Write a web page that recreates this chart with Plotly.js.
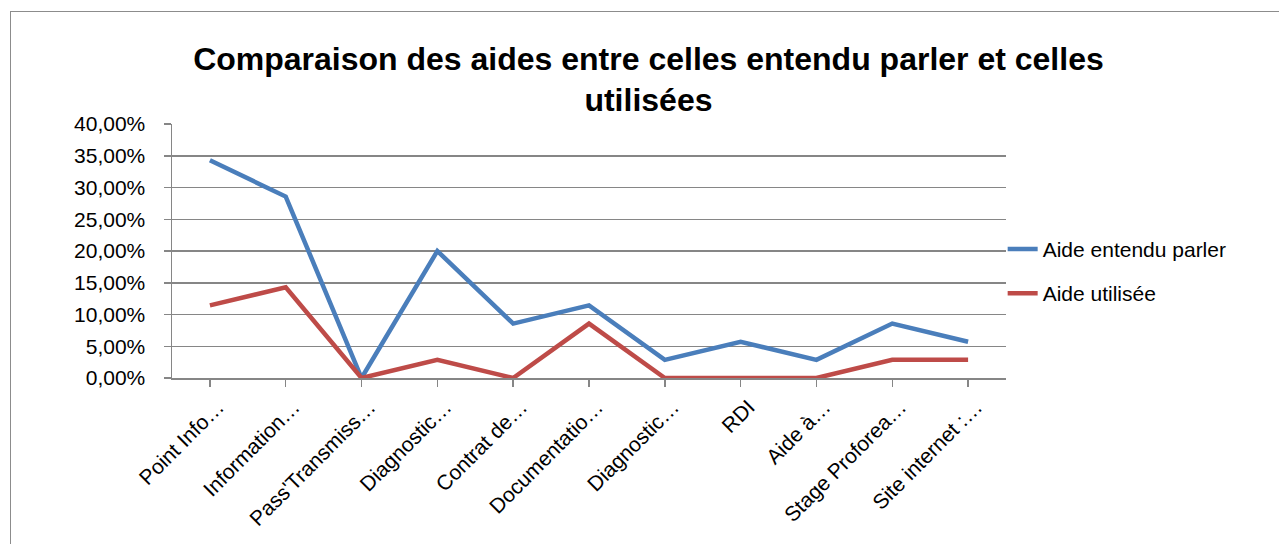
<!DOCTYPE html>
<html><head><meta charset="utf-8">
<script src="https://cdn.plot.ly/plotly-3.0.1.min.js"></script>
<style>
html,body{margin:0;padding:0;background:#fff;}
#chart{width:1279px;height:544px;}
#frame{position:absolute;left:10px;top:11px;width:1400px;height:700px;border:1.5px solid #8c8c8c;pointer-events:none;}
</style></head>
<body>
<div id="chart"></div>
<div id="frame"></div>
<script>
const categories = ["Point Info…","Information…","Pass'Transmiss…","Diagnostic…","Contrat de…","Documentatio…","Diagnostic…","RDI","Aide à…","Stage Proforea…","Site internet :…"];
const aideEntendu = [0.3429,0.2857,0.0,0.20,0.0857,0.1143,0.0286,0.0571,0.0286,0.0857,0.0571];
const aideUtilisee = [0.1143,0.1429,0.0,0.0286,0.0,0.0857,0.0,0.0,0.0,0.0286,0.0286];
const seriesNames = ["Aide entendu parler","Aide utilisée"];
const titleText = "Comparaison des aides entre celles entendu parler et celles<br>utilisées";

const idx = categories.map((_, i) => i);
const traces = [
  {x: idx, y: aideEntendu, name: seriesNames[0], legendgroup: 'a', type: 'scatter', mode: 'lines',
   line: {color: '#4A7EBB', width: 4.5}},
  {x: idx, y: aideUtilisee, name: seriesNames[1], legendgroup: 'b', type: 'scatter', mode: 'lines',
   line: {color: '#BE4B48', width: 4.5}}
];
const font = "Liberation Sans, Arial, sans-serif";
const layout = {
  width: 1279, height: 544,
  margin: {l: 172, r: 273, t: 124, b: 166},
  paper_bgcolor: '#fff', plot_bgcolor: '#fff',
  separators: ', ',
  font: {family: font, size: 21, color: '#000'},
  title: {text: titleText, x: 0.507, xanchor: 'center', y: 0.872, yanchor: 'middle',
          xref: 'container', yref: 'container',
          font: {family: font, size: 32, color: '#000', weight: 'bold'}},
  xaxis: {
    range: [-0.5, 10.5], tickmode: 'array', tickvals: idx, ticktext: categories,
    tickangle: -45, showgrid: false, zeroline: false, showline: true,
    linecolor: '#868686', linewidth: 1.5, ticks: 'outside', tickson: 'boundaries',
    ticklen: 7, tickcolor: '#868686', tickwidth: 1.5, ticklabelshift: 8,
    tickfont: {family: font, size: 21, color: '#000'}
  },
  yaxis: {
    range: [0, 0.4], dtick: 0.05, tick0: 0, tickformat: '.2%',
    showgrid: true, gridcolor: '#868686', gridwidth: 1.5, zeroline: false,
    showline: true, linecolor: '#868686', linewidth: 1.5,
    ticks: 'outside', ticklen: 7, tickcolor: '#868686', tickwidth: 1.5,
    ticklabelstandoff: 14,
    tickfont: {family: font, size: 21, color: '#000'}
  },
  legend: {x: 0.996, xanchor: 'left', y: 0.42, yanchor: 'middle', xref: 'paper',
           font: {family: font, size: 21, color: '#000'}, tracegroupgap: 14,
           traceorder: 'grouped', bgcolor: 'rgba(0,0,0,0)'},
  showlegend: true
};
Plotly.newPlot('chart', traces, layout, {displayModeBar: false, staticPlot: true});
</script>
</body></html>
